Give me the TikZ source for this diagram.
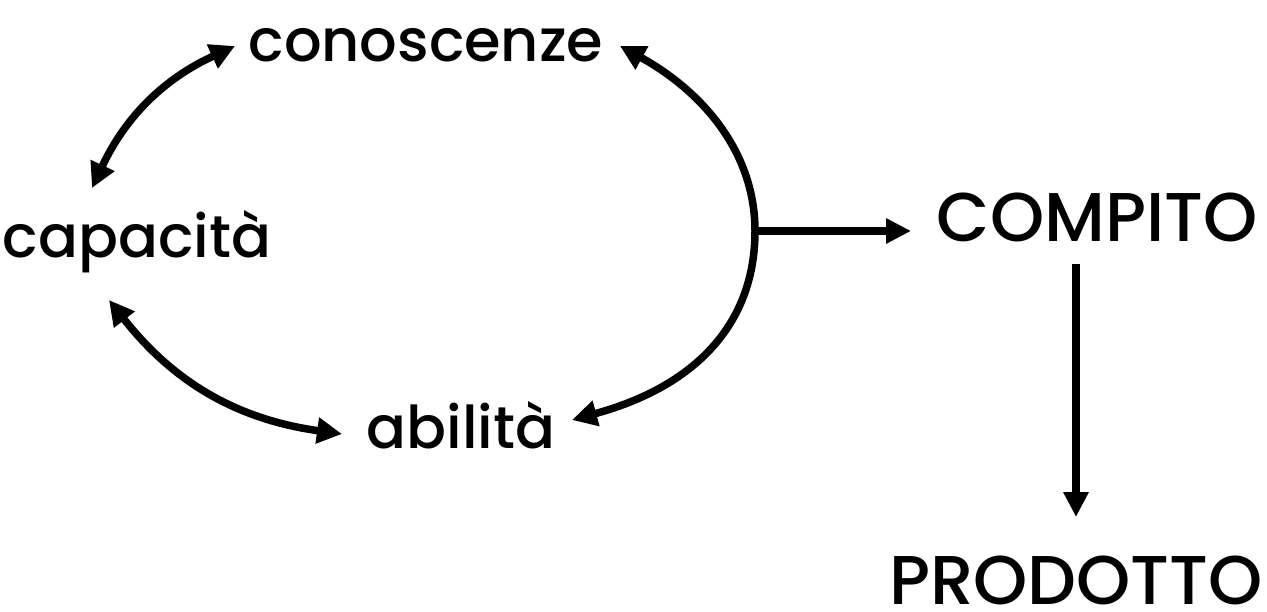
\documentclass[tikz,border=0pt]{standalone}
\usepackage{fontspec}
\setmainfont{Poppins}[UprightFont={* Medium}]
\usetikzlibrary{arrows.meta}
\begin{document}
\begin{tikzpicture}[x=1pt,y=-1pt,
  word/.style={inner sep=0pt, anchor=base, font=\fontsize{59}{64}\selectfont},
  capword/.style={word, font=\fontsize{69}{76}\selectfont},
  link/.style={line width=7.5pt, {Triangle[length=25pt,width=25pt]}-{Triangle[length=25pt,width=25pt]}},
  flow/.style={line width=7.5pt, -{Triangle[length=25pt,width=24pt]}}]
\useasboundingbox (0,0) rectangle (1267,612);

% the five words
\node[word] (con)  at (426,62)  {conoscenze};
\node[word] (cap)  at (137,258) {capacità};
\node[word] (abi)  at (461,448) {abilità};
\node[capword] (comp) at (1097,242) {COMPITO};
\node[capword] (prod) at (1076,604) {PRODOTTO};

% arrow ends beside the words
\coordinate (conL) at (235,46);
\coordinate (conR) at (620,46);
\coordinate (capT) at (92,188);
\coordinate (capB) at (109,300);
\coordinate (abiL) at (342,434);
\coordinate (abiR) at (572,420);
\coordinate (knot) at (755,231);
\coordinate (compIn) at (911,231);
\coordinate (compOut) at (1076,264);
\coordinate (prodIn) at (1076,517);

% cycle between the three components
\draw[link] (conL) to[bend right=20] (capT);
\draw[link] (capB) to[bend right=22] (abiL);
\draw[link] (conR) .. controls (700,90) and (755,150) .. (knot)
                   .. controls (755,320) and (700,385) .. (abiR);

% from the cycle to the task, and on to the product
\draw[flow] (knot) -- (compIn);
\draw[flow] (compOut) -- (prodIn);
\end{tikzpicture}
\end{document}
